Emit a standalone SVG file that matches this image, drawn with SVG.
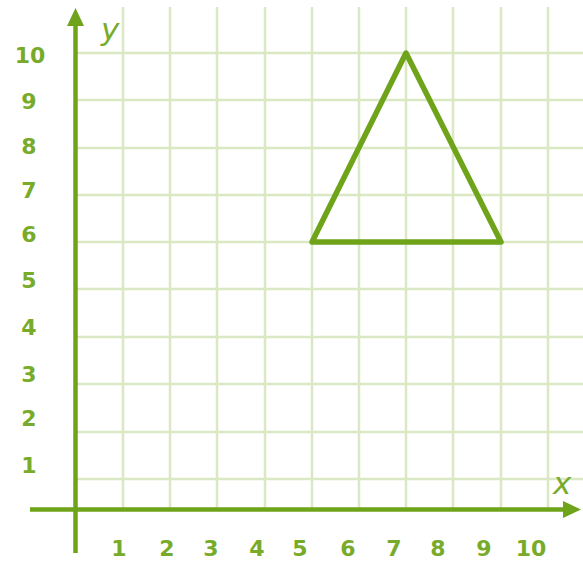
<svg xmlns="http://www.w3.org/2000/svg" width="583" height="561" viewBox="0 0 583 561">
<style>
.grid line{stroke:#dbe8c4;stroke-width:2.5}
.axis{stroke:#6ea31a;stroke-width:4.5;fill:none}
.lbl{font-family:"DejaVu Sans",Verdana,sans-serif;font-weight:bold;font-size:22px;fill:#78ab2a;text-anchor:middle}
.var{font-family:"DejaVu Sans",Verdana,sans-serif;font-style:italic;font-size:31px;fill:#78ab2a}
</style>
<rect width="583" height="561" fill="#ffffff"/>
<g class="grid" id="grid">
<line x1="123" y1="7" x2="123" y2="509"/>
<line x1="170" y1="7" x2="170" y2="509"/>
<line x1="217" y1="7" x2="217" y2="509"/>
<line x1="265" y1="7" x2="265" y2="509"/>
<line x1="312" y1="7" x2="312" y2="509"/>
<line x1="359" y1="7" x2="359" y2="509"/>
<line x1="406" y1="7" x2="406" y2="509"/>
<line x1="453" y1="7" x2="453" y2="509"/>
<line x1="501" y1="7" x2="501" y2="509"/>
<line x1="548" y1="7" x2="548" y2="509"/>
<line x1="76" y1="53" x2="583" y2="53"/>
<line x1="76" y1="100" x2="583" y2="100"/>
<line x1="76" y1="148" x2="583" y2="148"/>
<line x1="76" y1="195" x2="583" y2="195"/>
<line x1="76" y1="242" x2="583" y2="242"/>
<line x1="76" y1="289" x2="583" y2="289"/>
<line x1="76" y1="337" x2="583" y2="337"/>
<line x1="76" y1="384" x2="583" y2="384"/>
<line x1="76" y1="432" x2="583" y2="432"/>
<line x1="76" y1="479" x2="583" y2="479"/>
</g>
<g id="axes">
<line class="axis" x1="75.5" y1="22" x2="75.5" y2="553"/>
<polygon points="75.5,8 84,26 67,26" fill="#6ea31a"/>
<line class="axis" x1="30" y1="509.5" x2="566" y2="509.5"/>
<polygon points="581,509.5 563,501 563,518" fill="#6ea31a"/>
<text class="var" x="101" y="40">y</text>
<text class="var" x="553" y="494">x</text>
</g>
<g id="ylabels" class="lbl">
<text x="30" y="63">10</text>
<text x="29" y="109">9</text>
<text x="29" y="154">8</text>
<text x="29" y="198">7</text>
<text x="29" y="242">6</text>
<text x="29" y="288">5</text>
<text x="29" y="335">4</text>
<text x="29" y="382">3</text>
<text x="29" y="426">2</text>
<text x="29" y="473">1</text>
</g>
<g id="xlabels" class="lbl">
<text x="119" y="556">1</text>
<text x="167" y="556">2</text>
<text x="211" y="556">3</text>
<text x="257" y="556">4</text>
<text x="300" y="556">5</text>
<text x="348" y="556">6</text>
<text x="394" y="556">7</text>
<text x="438" y="556">8</text>
<text x="484" y="556">9</text>
<text x="531" y="556">10</text>
</g>
<g id="triangle">
<polygon points="312,242 406,53 501,242" fill="none" stroke="#6ea31a" stroke-width="5.5" stroke-linejoin="round"/>
</g>
</svg>
